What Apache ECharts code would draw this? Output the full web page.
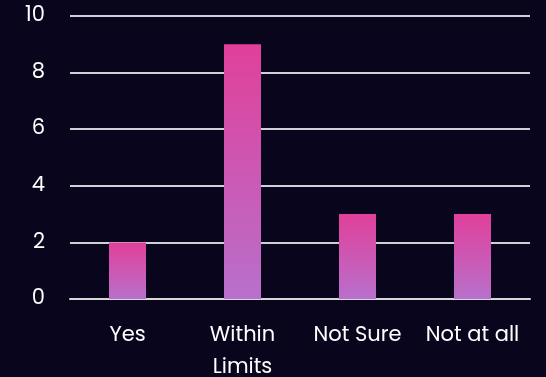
<!DOCTYPE html>
<html><head><meta charset="utf-8">
<script src="https://cdn.jsdelivr.net/npm/echarts@6/dist/echarts.min.js"></script>
<style>html,body{margin:0;padding:0;background:#09051c;}#c{width:546px;height:377px;}</style>
</head><body><div id="c"></div>
<script>
const categories = ['Yes', 'Within\nLimits', 'Not Sure', 'Not at all'];
const values = [2, 9, 3, 3];
const yTicks = { min: 0, max: 10, interval: 2 };
const font = 'Poppins, "Open Sans", sans-serif';
const chart = echarts.init(document.getElementById('c'));
chart.setOption({
  backgroundColor: '#09051c',
  animation: false,
  grid: { left: 70, right: 16, top: 16, bottom: 78, containLabel: false, outerBoundsMode: 'none' },
  xAxis: {
    type: 'category', data: categories,
    axisLine: { show: true, lineStyle: { color: '#d8d8d8', width: 2 } },
    axisTick: { show: false },
    axisLabel: { color: '#ffffff', fontSize: 21, fontFamily: font, margin: 21, lineHeight: 32, interval: 0, hideOverlap: false }
  },
  yAxis: {
    type: 'value', min: yTicks.min, max: yTicks.max, interval: yTicks.interval,
    axisLine: { show: false }, axisTick: { show: false },
    splitLine: { lineStyle: { color: '#d0d0d8', width: 2 } },
    axisLabel: { color: '#ffffff', fontSize: 21, fontFamily: font, margin: 25, padding: [2, 0, 0, 0] }
  },
  series: [{
    type: 'bar', data: values, barWidth: 37,
    itemStyle: {
      color: new echarts.graphic.LinearGradient(0, 0, 0, 1, [
        { offset: 0, color: '#e0409a' },
        { offset: 1, color: '#b870cc' }
      ])
    }
  }]
});
</script></body></html>
